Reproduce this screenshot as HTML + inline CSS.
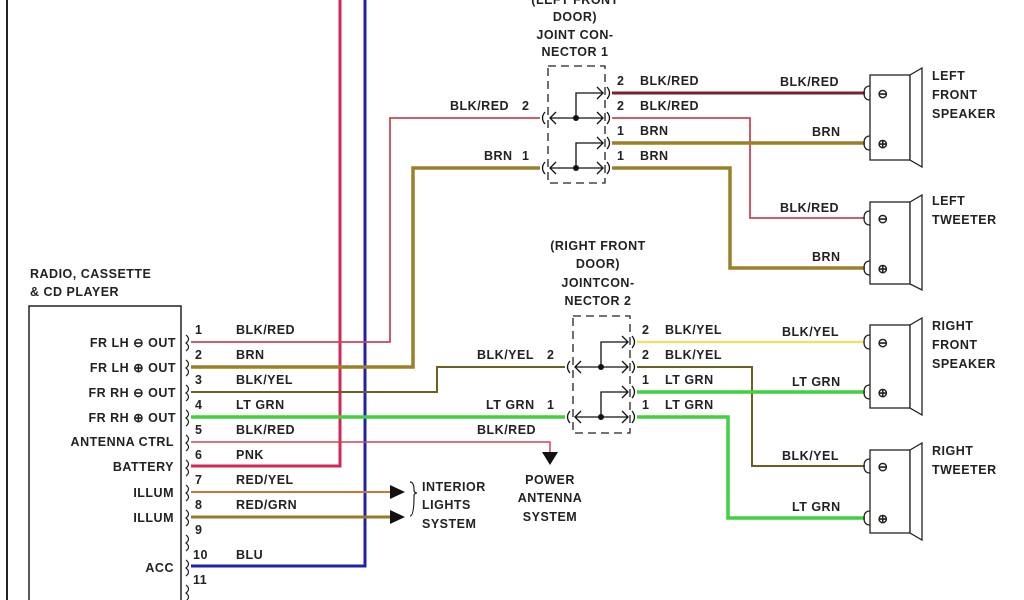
<!DOCTYPE html>
<html><head><meta charset="utf-8"><style>
html,body{margin:0;padding:0;background:#fff;}
svg{display:block;}
text{font-family:"Liberation Sans",sans-serif;font-size:12.5px;font-weight:bold;fill:#222;letter-spacing:0.5px;}
</style></head><body>
<svg width="1024" height="600" viewBox="0 0 1024 600" xmlns="http://www.w3.org/2000/svg">
<rect width="1024" height="600" fill="#fff"/>
<line x1="7" y1="0" x2="7" y2="600" stroke="#222" stroke-width="2"/>
<!-- radio box -->
<rect x="29" y="306" width="152" height="300" fill="none" stroke="#222" stroke-width="1.5"/>
<text x="30" y="278">RADIO, CASSETTE</text>
<text x="30" y="296">&amp; CD PLAYER</text>
<g text-anchor="end">
<text x="176" y="347">FR LH ⊖ OUT</text>
<text x="176" y="372">FR LH ⊕ OUT</text>
<text x="176" y="397">FR RH ⊖ OUT</text>
<text x="176" y="422">FR RH ⊕ OUT</text>
<text x="174" y="446">ANTENNA CTRL</text>
<text x="174" y="471">BATTERY</text>
<text x="174" y="497">ILLUM</text>
<text x="174" y="522">ILLUM</text>
<text x="174" y="572">ACC</text>
</g>
<!-- pin brackets -->
<g fill="none" stroke="#222" stroke-width="1.2">
<path d="M186 335 q5 4 0 8 q5 4 0 8"/><path d="M186 360 q5 4 0 8 q5 4 0 8"/><path d="M186 385 q5 4 0 8 q5 4 0 8"/><path d="M186 410 q5 4 0 8 q5 4 0 8"/><path d="M186 435 q5 4 0 8 q5 4 0 8"/><path d="M186 460 q5 4 0 8 q5 4 0 8"/><path d="M186 485 q5 4 0 8 q5 4 0 8"/><path d="M186 510 q5 4 0 8 q5 4 0 8"/><path d="M186 535 q5 4 0 8 q5 4 0 8"/><path d="M186 560 q5 4 0 8 q5 4 0 8"/><path d="M186 585 q5 4 0 8 q5 4 0 8"/>
</g>
<g font-size="12">
<text x="195" y="334">1</text><text x="195" y="359">2</text><text x="195" y="384">3</text><text x="195" y="409">4</text><text x="195" y="434">5</text><text x="195" y="459">6</text><text x="195" y="484">7</text><text x="195" y="509">8</text><text x="195" y="534">9</text><text x="193" y="559">10</text><text x="193" y="584">11</text>
</g>
<text x="236" y="334">BLK/RED</text><text x="236" y="359">BRN</text><text x="236" y="384">BLK/YEL</text><text x="236" y="409">LT GRN</text><text x="236" y="434">BLK/RED</text><text x="236" y="459">PNK</text><text x="236" y="484">RED/YEL</text><text x="236" y="509">RED/GRN</text><text x="236" y="559">BLU</text>
<!-- wires -->
<g fill="none" stroke-linejoin="miter">
<polyline points="191,466 340,466 340,0" stroke="#d02858" stroke-width="3"/>
<polyline points="191,566 365,566 365,0" stroke="#2020a8" stroke-width="3"/>
<polyline points="191,342 390,342 390,118 540,118" stroke="#c84858" stroke-width="1.8"/>
<polyline points="191,367 413,367 413,168 540,168" stroke="#9a8028" stroke-width="3.5"/>
<polyline points="191,392 437,392 437,367 565,367" stroke="#6a6020" stroke-width="2"/>
<polyline points="191,417 565,417" stroke="#40d040" stroke-width="3.5"/>
<polyline points="191,442 550,442 550,452" stroke="#c84858" stroke-width="1.5"/>
<line x1="191" y1="492" x2="392" y2="492" stroke="#c87838" stroke-width="2"/>
<line x1="191" y1="517" x2="392" y2="517" stroke="#9a7a28" stroke-width="3"/>
<!-- conn1 outputs -->
<polyline points="612,93 865,93" stroke="#7a2030" stroke-width="3"/>
<polyline points="612,118 750,118 750,218 865,218" stroke="#c84858" stroke-width="1.8"/>
<polyline points="612,143 865,143" stroke="#9a8028" stroke-width="3.5"/>
<polyline points="612,168 730,168 730,268 865,268" stroke="#9a8028" stroke-width="3.5"/>
<!-- conn2 outputs -->
<polyline points="637,342 865,342" stroke="#f0e070" stroke-width="2.5"/>
<polyline points="637,367 752,367 752,466 865,466" stroke="#6a6020" stroke-width="2"/>
<polyline points="637,392 865,392" stroke="#40d040" stroke-width="3.5"/>
<polyline points="637,417 728,417 728,518 865,518" stroke="#40d040" stroke-width="3.5"/>
</g>
<!-- arrows -->
<polygon points="390,485 390,499 405,492" fill="#111"/>
<polygon points="390,510 390,524 405,517" fill="#111"/>
<path d="M410 482 q4 0 4 8 q0 3 3 3 q-3 0 -3 3 q0 20 -4 20" fill="none" stroke="#222" stroke-width="1.2"/>
<text x="422" y="491">INTERIOR</text><text x="422" y="509">LIGHTS</text><text x="422" y="528">SYSTEM</text>
<polygon points="542,452 558,452 550,465" fill="#111"/>
<text x="550" y="484" text-anchor="middle">POWER</text><text x="550" y="502" text-anchor="middle">ANTENNA</text><text x="550" y="521" text-anchor="middle">SYSTEM</text>
<text x="477" y="434">BLK/RED</text>
<!-- connector 1 -->
<g text-anchor="middle">
<text x="575" y="4">(LEFT FRONT</text><text x="575" y="21">DOOR)</text><text x="575" y="39">JOINT CON-</text><text x="575" y="56">NECTOR 1</text>
<text x="598" y="250">(RIGHT FRONT</text><text x="598" y="268">DOOR)</text><text x="598" y="287">JOINTCON-</text><text x="598" y="305">NECTOR 2</text>
</g>
<g fill="none" stroke="#222" stroke-width="1.3">
<rect x="548" y="66" width="57" height="117" stroke-dasharray="8,5"/>
<rect x="573" y="316" width="57" height="117" stroke-dasharray="8,5"/>
</g>
<g id="c1" fill="none" stroke="#111" stroke-width="1.3">
</g>
<g fill="none" stroke="#111" stroke-width="1.3">
<!-- conn1 internals -->
<path d="M545 112 q-5 6 0 12 M545 162 q-5 6 0 12"/>
<path d="M556 112 l-6 6 l6 6 M556 162 l-6 6 l6 6"/>
<path d="M550 118 H603 M550 168 H603 M576 118 V93 H603 M576 168 V143 H603"/>
<path d="M597 87 l6 6 l-6 6 M597 112 l6 6 l-6 6 M597 137 l6 6 l-6 6 M597 162 l6 6 l-6 6"/>
<path d="M607 87 q5 6 0 12 M607 112 q5 6 0 12 M607 137 q5 6 0 12 M607 162 q5 6 0 12"/>
<!-- conn2 internals -->
<path d="M570 361 q-5 6 0 12 M570 411 q-5 6 0 12"/>
<path d="M581 361 l-6 6 l6 6 M581 411 l-6 6 l6 6"/>
<path d="M575 367 H628 M575 417 H628 M601 367 V342 H628 M601 417 V392 H628"/>
<path d="M622 336 l6 6 l-6 6 M622 361 l6 6 l-6 6 M622 386 l6 6 l-6 6 M622 411 l6 6 l-6 6"/>
<path d="M632 336 q5 6 0 12 M632 361 q5 6 0 12 M632 386 q5 6 0 12 M632 411 q5 6 0 12"/>
</g>
<g fill="#111"><circle cx="576" cy="118" r="3"/><circle cx="576" cy="168" r="3"/><circle cx="601" cy="367" r="3"/><circle cx="601" cy="417" r="3"/></g>
<g font-size="12">
<text x="450" y="110">BLK/RED</text><text x="522" y="110">2</text><text x="484" y="160">BRN</text><text x="522" y="160">1</text>
<text x="617" y="85">2</text><text x="640" y="85">BLK/RED</text><text x="617" y="110">2</text><text x="640" y="110">BLK/RED</text>
<text x="617" y="135">1</text><text x="640" y="135">BRN</text><text x="617" y="160">1</text><text x="640" y="160">BRN</text>
<text x="477" y="359">BLK/YEL</text><text x="547" y="359">2</text><text x="486" y="409">LT GRN</text><text x="547" y="409">1</text>
<text x="642" y="334">2</text><text x="665" y="334">BLK/YEL</text><text x="642" y="359">2</text><text x="665" y="359">BLK/YEL</text>
<text x="642" y="384">1</text><text x="665" y="384">LT GRN</text><text x="642" y="409">1</text><text x="665" y="409">LT GRN</text>
<text x="780" y="86">BLK/RED</text><text x="812" y="136">BRN</text><text x="780" y="212">BLK/RED</text><text x="812" y="261">BRN</text>
<text x="782" y="336">BLK/YEL</text><text x="792" y="386">LT GRN</text><text x="782" y="460">BLK/YEL</text><text x="792" y="511">LT GRN</text>
</g>
<!-- speakers -->
<g fill="#fff" stroke="#222" stroke-width="1.3">
<rect x="870" y="75" width="40" height="85"/><polygon points="910,75 922,68 922,167 910,160"/>
<rect x="870" y="202" width="40" height="82"/><polygon points="910,202 922,195 922,290 910,284"/>
<rect x="870" y="325" width="40" height="83"/><polygon points="910,325 922,318 922,415 910,408"/>
<rect x="870" y="450" width="40" height="83"/><polygon points="910,450 922,443 922,540 910,533"/>
</g>
<g fill="none" stroke="#222" stroke-width="1.3">
<path d="M870 86 q-6 0 -6 7 q0 7 6 7 M870 136 q-6 0 -6 7 q0 7 6 7 M870 211 q-6 0 -6 7 q0 7 6 7 M870 261 q-6 0 -6 7 q0 7 6 7 M870 335 q-6 0 -6 7 q0 7 6 7 M870 385 q-6 0 -6 7 q0 7 6 7 M870 459 q-6 0 -6 7 q0 7 6 7 M870 511 q-6 0 -6 7 q0 7 6 7"/>
</g>
<g font-size="13" text-anchor="middle">
<text x="883" y="98">⊖</text><text x="883" y="148">⊕</text><text x="883" y="223">⊖</text><text x="883" y="273">⊕</text>
<text x="883" y="347">⊖</text><text x="883" y="397">⊕</text><text x="883" y="471">⊖</text><text x="883" y="523">⊕</text>
</g>
<text x="932" y="80">LEFT</text><text x="932" y="99">FRONT</text><text x="932" y="118">SPEAKER</text>
<text x="932" y="205">LEFT</text><text x="932" y="224">TWEETER</text>
<text x="932" y="330">RIGHT</text><text x="932" y="349">FRONT</text><text x="932" y="368">SPEAKER</text>
<text x="932" y="455">RIGHT</text><text x="932" y="474">TWEETER</text>
</svg>
</body></html>
